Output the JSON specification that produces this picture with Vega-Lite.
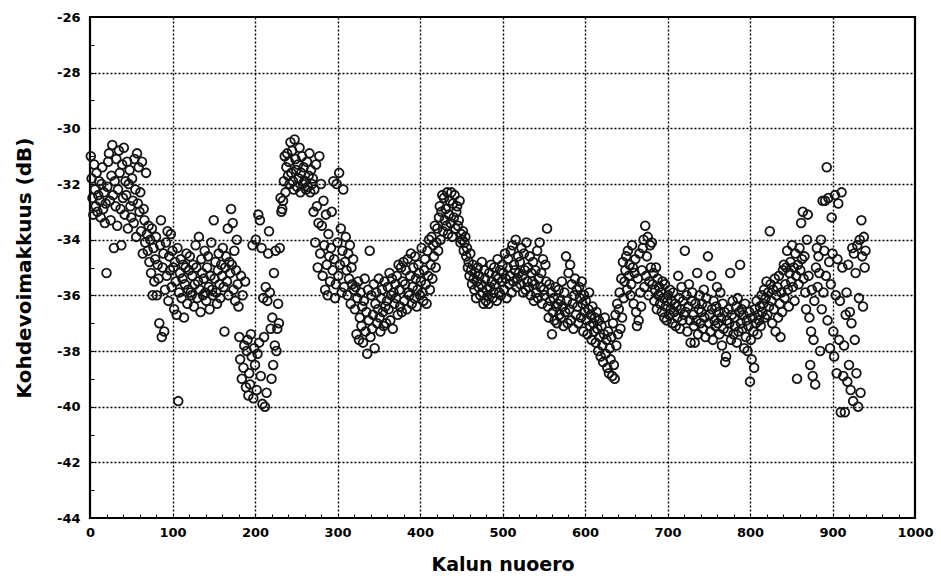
{
  "$schema": "https://vega.github.io/schema/vega-lite/v6.json",
  "width": 825,
  "height": 501,
  "autosize": {"type": "none"},
  "padding": {"left": 90, "top": 17, "right": 26, "bottom": 66},
  "background": "white",
  "config": {
    "view": {"stroke": "black", "strokeWidth": 2.2}
  },
  "data": {"values": [
{"x":1,"y":-31.0},{"x":2,"y":-31.8},{"x":3,"y":-32.5},{"x":4,"y":-33.1},{"x":5,"y":-31.3},{"x":6,"y":-32.2},{"x":7,"y":-32.8},{"x":8,"y":-31.6},{"x":9,"y":-33.0},{"x":10,"y":-32.4},
{"x":11,"y":-31.9},{"x":12,"y":-32.6},{"x":13,"y":-33.2},{"x":14,"y":-32.0},{"x":15,"y":-31.4},{"x":16,"y":-32.9},{"x":17,"y":-32.3},{"x":18,"y":-33.4},{"x":19,"y":-32.7},{"x":20,"y":-35.2},
{"x":21,"y":-32.1},{"x":22,"y":-31.2},{"x":23,"y":-30.9},{"x":24,"y":-32.6},{"x":25,"y":-33.3},{"x":26,"y":-31.7},{"x":27,"y":-30.6},{"x":28,"y":-32.4},{"x":29,"y":-34.3},{"x":30,"y":-31.9},
{"x":31,"y":-32.8},{"x":32,"y":-31.1},{"x":33,"y":-33.5},{"x":34,"y":-32.2},{"x":35,"y":-30.8},{"x":36,"y":-31.6},{"x":37,"y":-32.9},{"x":38,"y":-34.2},{"x":39,"y":-31.3},{"x":40,"y":-32.5},
{"x":41,"y":-30.7},{"x":42,"y":-33.1},{"x":43,"y":-31.9},{"x":44,"y":-32.4},{"x":45,"y":-31.2},{"x":46,"y":-33.6},{"x":47,"y":-32.0},{"x":48,"y":-31.5},{"x":49,"y":-32.8},{"x":50,"y":-33.2},
{"x":51,"y":-31.8},{"x":52,"y":-32.6},{"x":53,"y":-33.4},{"x":54,"y":-31.1},{"x":55,"y":-32.2},{"x":56,"y":-33.9},{"x":57,"y":-30.9},{"x":58,"y":-32.7},{"x":59,"y":-31.4},{"x":60,"y":-33.0},
{"x":61,"y":-32.3},{"x":62,"y":-33.7},{"x":63,"y":-31.2},{"x":64,"y":-34.5},{"x":65,"y":-32.9},{"x":66,"y":-33.3},{"x":67,"y":-34.1},{"x":68,"y":-31.6},{"x":69,"y":-33.8},{"x":70,"y":-34.4},
{"x":71,"y":-33.5},{"x":72,"y":-34.8},{"x":73,"y":-34.0},{"x":74,"y":-35.2},{"x":75,"y":-33.6},{"x":76,"y":-36.0},{"x":77,"y":-34.3},{"x":78,"y":-35.5},{"x":79,"y":-34.7},{"x":80,"y":-33.9},
{"x":81,"y":-36.0},{"x":82,"y":-34.9},{"x":83,"y":-35.4},{"x":84,"y":-37.0},{"x":85,"y":-34.2},{"x":86,"y":-33.3},{"x":87,"y":-37.5},{"x":88,"y":-35.0},{"x":89,"y":-34.5},{"x":90,"y":-37.3},
{"x":91,"y":-35.8},{"x":92,"y":-34.1},{"x":93,"y":-35.3},{"x":94,"y":-33.7},{"x":95,"y":-36.2},{"x":96,"y":-34.6},{"x":97,"y":-35.1},{"x":98,"y":-33.8},{"x":99,"y":-35.7},{"x":100,"y":-34.4},
{"x":101,"y":-35.0},{"x":102,"y":-36.5},{"x":103,"y":-34.8},{"x":104,"y":-35.5},{"x":105,"y":-36.7},{"x":106,"y":-34.3},{"x":107,"y":-39.8},{"x":108,"y":-35.9},{"x":109,"y":-35.2},{"x":110,"y":-34.7},
{"x":111,"y":-36.1},{"x":112,"y":-35.4},{"x":113,"y":-34.9},{"x":114,"y":-36.8},{"x":115,"y":-35.6},{"x":116,"y":-35.0},{"x":117,"y":-34.5},{"x":118,"y":-36.3},{"x":119,"y":-35.8},{"x":120,"y":-35.1},
{"x":121,"y":-34.6},{"x":122,"y":-35.9},{"x":123,"y":-36.0},{"x":124,"y":-35.3},{"x":125,"y":-34.9},{"x":126,"y":-36.4},{"x":127,"y":-35.6},{"x":128,"y":-34.2},{"x":129,"y":-35.0},{"x":130,"y":-36.1},
{"x":131,"y":-35.5},{"x":132,"y":-33.9},{"x":133,"y":-35.8},{"x":134,"y":-36.6},{"x":135,"y":-34.7},{"x":136,"y":-35.2},{"x":137,"y":-36.0},{"x":138,"y":-35.4},{"x":139,"y":-34.4},{"x":140,"y":-35.9},
{"x":141,"y":-36.2},{"x":142,"y":-35.0},{"x":143,"y":-34.6},{"x":144,"y":-35.7},{"x":145,"y":-36.5},{"x":146,"y":-35.3},{"x":147,"y":-34.1},{"x":148,"y":-35.8},{"x":149,"y":-36.0},{"x":150,"y":-33.3},
{"x":151,"y":-35.4},{"x":152,"y":-34.8},{"x":153,"y":-35.9},{"x":154,"y":-36.3},{"x":155,"y":-35.1},{"x":156,"y":-34.5},{"x":157,"y":-35.6},{"x":158,"y":-36.1},{"x":159,"y":-34.9},{"x":160,"y":-35.3},
{"x":161,"y":-34.3},{"x":162,"y":-35.7},{"x":163,"y":-37.3},{"x":164,"y":-35.0},{"x":165,"y":-34.6},{"x":166,"y":-35.5},{"x":167,"y":-33.6},{"x":168,"y":-36.0},{"x":169,"y":-34.8},{"x":170,"y":-35.2},
{"x":171,"y":-32.9},{"x":172,"y":-34.9},{"x":173,"y":-33.4},{"x":174,"y":-35.8},{"x":175,"y":-34.4},{"x":176,"y":-36.2},{"x":177,"y":-35.1},{"x":178,"y":-34.0},{"x":179,"y":-35.6},{"x":180,"y":-36.4},
{"x":181,"y":-37.5},{"x":182,"y":-38.3},{"x":183,"y":-35.3},{"x":184,"y":-39.0},{"x":185,"y":-36.0},{"x":186,"y":-38.6},{"x":187,"y":-37.8},{"x":188,"y":-35.5},{"x":189,"y":-39.3},{"x":190,"y":-38.0},
{"x":191,"y":-37.6},{"x":192,"y":-39.6},{"x":193,"y":-38.8},{"x":194,"y":-39.2},{"x":195,"y":-37.4},{"x":196,"y":-38.2},{"x":197,"y":-34.2},{"x":198,"y":-39.7},{"x":199,"y":-37.9},{"x":200,"y":-38.5},
{"x":201,"y":-34.0},{"x":202,"y":-39.4},{"x":203,"y":-38.1},{"x":204,"y":-33.1},{"x":205,"y":-37.7},{"x":206,"y":-33.3},{"x":207,"y":-38.9},{"x":208,"y":-34.3},{"x":209,"y":-39.9},{"x":210,"y":-36.1},
{"x":211,"y":-37.5},{"x":212,"y":-40.0},{"x":213,"y":-35.7},{"x":214,"y":-39.5},{"x":215,"y":-36.2},{"x":216,"y":-34.5},{"x":217,"y":-33.7},{"x":218,"y":-35.9},{"x":219,"y":-37.2},{"x":220,"y":-39.0},
{"x":221,"y":-36.8},{"x":222,"y":-38.5},{"x":223,"y":-35.2},{"x":224,"y":-37.8},{"x":225,"y":-34.4},{"x":226,"y":-38.0},{"x":227,"y":-37.2},{"x":228,"y":-36.3},{"x":229,"y":-37.0},{"x":230,"y":-34.3},
{"x":231,"y":-32.5},{"x":232,"y":-33.0},{"x":233,"y":-32.9},{"x":234,"y":-32.6},{"x":235,"y":-31.9},{"x":236,"y":-31.0},{"x":237,"y":-32.3},{"x":238,"y":-31.4},{"x":239,"y":-30.9},{"x":240,"y":-31.7},
{"x":241,"y":-31.2},{"x":242,"y":-32.0},{"x":243,"y":-30.5},{"x":244,"y":-31.6},{"x":245,"y":-30.8},{"x":246,"y":-31.9},{"x":247,"y":-32.2},{"x":248,"y":-30.4},{"x":249,"y":-31.1},{"x":250,"y":-31.5},
{"x":251,"y":-32.1},{"x":252,"y":-31.3},{"x":253,"y":-31.8},{"x":254,"y":-30.7},{"x":255,"y":-32.3},{"x":256,"y":-31.6},{"x":257,"y":-31.0},{"x":258,"y":-32.0},{"x":259,"y":-31.4},{"x":260,"y":-31.9},
{"x":261,"y":-31.9},{"x":262,"y":-32.2},{"x":263,"y":-31.2},{"x":264,"y":-32.1},{"x":265,"y":-31.7},{"x":266,"y":-30.9},{"x":267,"y":-32.3},{"x":268,"y":-31.5},{"x":269,"y":-32.0},{"x":270,"y":-31.8},
{"x":271,"y":-33.0},{"x":272,"y":-32.2},{"x":273,"y":-34.1},{"x":274,"y":-31.3},{"x":275,"y":-32.8},{"x":276,"y":-35.0},{"x":277,"y":-33.4},{"x":278,"y":-31.0},{"x":279,"y":-34.5},{"x":280,"y":-32.0},
{"x":281,"y":-33.5},{"x":282,"y":-35.3},{"x":283,"y":-32.6},{"x":284,"y":-34.2},{"x":285,"y":-35.8},{"x":286,"y":-33.1},{"x":287,"y":-34.9},{"x":288,"y":-36.0},{"x":289,"y":-33.8},{"x":290,"y":-34.6},
{"x":291,"y":-35.5},{"x":292,"y":-34.3},{"x":293,"y":-33.0},{"x":294,"y":-35.1},{"x":295,"y":-31.9},{"x":296,"y":-34.7},{"x":297,"y":-36.1},{"x":298,"y":-35.6},{"x":299,"y":-32.0},{"x":300,"y":-34.1},
{"x":301,"y":-35.3},{"x":302,"y":-31.6},{"x":303,"y":-34.9},{"x":304,"y":-33.6},{"x":305,"y":-35.9},{"x":306,"y":-34.4},{"x":307,"y":-32.2},{"x":308,"y":-35.7},{"x":309,"y":-34.8},{"x":310,"y":-33.9},
{"x":311,"y":-35.1},{"x":312,"y":-36.0},{"x":313,"y":-34.5},{"x":314,"y":-35.4},{"x":315,"y":-34.2},{"x":316,"y":-36.3},{"x":317,"y":-35.0},{"x":318,"y":-35.6},{"x":319,"y":-34.7},{"x":320,"y":-35.8},
{"x":321,"y":-36.5},{"x":322,"y":-35.7},{"x":323,"y":-37.4},{"x":324,"y":-36.1},{"x":325,"y":-35.5},{"x":326,"y":-37.6},{"x":327,"y":-36.8},{"x":328,"y":-35.9},{"x":329,"y":-37.1},{"x":330,"y":-36.4},
{"x":331,"y":-37.7},{"x":332,"y":-36.2},{"x":333,"y":-35.4},{"x":334,"y":-37.3},{"x":335,"y":-36.6},{"x":336,"y":-38.1},{"x":337,"y":-35.8},{"x":338,"y":-36.9},{"x":339,"y":-34.4},{"x":340,"y":-37.5},
{"x":341,"y":-36.0},{"x":342,"y":-37.2},{"x":343,"y":-36.7},{"x":344,"y":-35.6},{"x":345,"y":-37.9},{"x":346,"y":-36.3},{"x":347,"y":-35.9},{"x":348,"y":-37.0},{"x":349,"y":-36.5},{"x":350,"y":-35.4},
{"x":351,"y":-36.8},{"x":352,"y":-37.3},{"x":353,"y":-36.1},{"x":354,"y":-35.8},{"x":355,"y":-36.6},{"x":356,"y":-37.1},{"x":357,"y":-35.5},{"x":358,"y":-36.4},{"x":359,"y":-37.0},{"x":360,"y":-36.2},
{"x":361,"y":-35.7},{"x":362,"y":-36.5},{"x":363,"y":-35.2},{"x":364,"y":-36.9},{"x":365,"y":-36.0},{"x":366,"y":-35.4},{"x":367,"y":-37.2},{"x":368,"y":-35.9},{"x":369,"y":-36.3},{"x":370,"y":-35.6},
{"x":371,"y":-36.1},{"x":372,"y":-35.3},{"x":373,"y":-36.7},{"x":374,"y":-34.9},{"x":375,"y":-35.8},{"x":376,"y":-36.4},{"x":377,"y":-35.0},{"x":378,"y":-36.6},{"x":379,"y":-35.5},{"x":380,"y":-34.8},
{"x":381,"y":-36.2},{"x":382,"y":-35.6},{"x":383,"y":-35.1},{"x":384,"y":-36.5},{"x":385,"y":-34.7},{"x":386,"y":-35.9},{"x":387,"y":-36.0},{"x":388,"y":-35.3},{"x":389,"y":-34.5},{"x":390,"y":-36.3},
{"x":391,"y":-35.7},{"x":392,"y":-35.0},{"x":393,"y":-36.1},{"x":394,"y":-34.6},{"x":395,"y":-35.4},{"x":396,"y":-36.4},{"x":397,"y":-35.8},{"x":398,"y":-34.9},{"x":399,"y":-35.2},{"x":400,"y":-36.0},
{"x":401,"y":-35.5},{"x":402,"y":-34.3},{"x":403,"y":-35.9},{"x":404,"y":-36.2},{"x":405,"y":-35.1},{"x":406,"y":-34.7},{"x":407,"y":-35.6},{"x":408,"y":-36.3},{"x":409,"y":-34.4},{"x":410,"y":-35.3},
{"x":411,"y":-34.0},{"x":412,"y":-35.8},{"x":413,"y":-34.9},{"x":414,"y":-33.9},{"x":415,"y":-35.4},{"x":416,"y":-34.2},{"x":417,"y":-34.6},{"x":418,"y":-33.5},{"x":419,"y":-35.0},{"x":420,"y":-34.1},
{"x":421,"y":-33.6},{"x":422,"y":-34.4},{"x":423,"y":-33.2},{"x":424,"y":-32.8},{"x":425,"y":-34.0},{"x":426,"y":-33.0},{"x":427,"y":-32.4},{"x":428,"y":-33.7},{"x":429,"y":-32.5},{"x":430,"y":-33.3},
{"x":431,"y":-32.9},{"x":432,"y":-33.5},{"x":433,"y":-32.3},{"x":434,"y":-33.8},{"x":435,"y":-33.1},{"x":436,"y":-32.6},{"x":437,"y":-33.4},{"x":438,"y":-32.3},{"x":439,"y":-33.9},{"x":440,"y":-32.7},
{"x":441,"y":-33.2},{"x":442,"y":-32.4},{"x":443,"y":-33.6},{"x":444,"y":-33.0},{"x":445,"y":-32.8},{"x":446,"y":-33.5},{"x":447,"y":-33.3},{"x":448,"y":-32.6},{"x":449,"y":-34.1},{"x":450,"y":-33.8},
{"x":451,"y":-34.0},{"x":452,"y":-33.7},{"x":453,"y":-34.4},{"x":454,"y":-34.1},{"x":455,"y":-33.9},{"x":456,"y":-34.6},{"x":457,"y":-34.3},{"x":458,"y":-35.0},{"x":459,"y":-34.8},{"x":460,"y":-35.3},
{"x":461,"y":-34.5},{"x":462,"y":-35.1},{"x":463,"y":-35.6},{"x":464,"y":-34.9},{"x":465,"y":-35.4},{"x":466,"y":-35.8},{"x":467,"y":-35.2},{"x":468,"y":-36.1},{"x":469,"y":-35.5},{"x":470,"y":-35.0},
{"x":471,"y":-35.7},{"x":472,"y":-35.3},{"x":473,"y":-36.0},{"x":474,"y":-35.6},{"x":475,"y":-34.8},{"x":476,"y":-35.9},{"x":477,"y":-36.3},{"x":478,"y":-35.1},{"x":479,"y":-35.4},{"x":480,"y":-36.2},
{"x":481,"y":-35.8},{"x":482,"y":-36.0},{"x":483,"y":-36.3},{"x":484,"y":-35.2},{"x":485,"y":-35.7},{"x":486,"y":-34.9},{"x":487,"y":-35.5},{"x":488,"y":-36.1},{"x":489,"y":-35.9},{"x":490,"y":-35.0},
{"x":491,"y":-35.6},{"x":492,"y":-35.3},{"x":493,"y":-36.2},{"x":494,"y":-34.7},{"x":495,"y":-35.4},{"x":496,"y":-35.9},{"x":497,"y":-35.1},{"x":498,"y":-36.0},{"x":499,"y":-35.5},{"x":500,"y":-34.9},
{"x":501,"y":-35.2},{"x":502,"y":-35.8},{"x":503,"y":-34.5},{"x":504,"y":-35.4},{"x":505,"y":-36.1},{"x":506,"y":-35.0},{"x":507,"y":-34.7},{"x":508,"y":-35.6},{"x":509,"y":-35.3},{"x":510,"y":-34.4},
{"x":511,"y":-35.9},{"x":512,"y":-34.2},{"x":513,"y":-35.5},{"x":514,"y":-34.9},{"x":515,"y":-35.1},{"x":516,"y":-34.0},{"x":517,"y":-35.7},{"x":518,"y":-35.4},{"x":519,"y":-34.6},{"x":520,"y":-35.2},
{"x":521,"y":-34.8},{"x":522,"y":-35.6},{"x":523,"y":-34.3},{"x":524,"y":-35.3},{"x":525,"y":-35.9},{"x":526,"y":-34.5},{"x":527,"y":-35.1},{"x":528,"y":-35.8},{"x":529,"y":-34.1},{"x":530,"y":-35.5},
{"x":531,"y":-35.0},{"x":532,"y":-35.7},{"x":533,"y":-34.6},{"x":534,"y":-36.0},{"x":535,"y":-35.2},{"x":536,"y":-35.5},{"x":537,"y":-34.8},{"x":538,"y":-36.2},{"x":539,"y":-35.6},{"x":540,"y":-35.1},
{"x":541,"y":-35.9},{"x":542,"y":-34.4},{"x":543,"y":-36.1},{"x":544,"y":-35.4},{"x":545,"y":-34.1},{"x":546,"y":-35.7},{"x":547,"y":-35.2},{"x":548,"y":-36.3},{"x":549,"y":-34.7},{"x":550,"y":-35.8},
{"x":551,"y":-36.0},{"x":552,"y":-34.9},{"x":553,"y":-35.5},{"x":554,"y":-33.6},{"x":555,"y":-36.4},{"x":556,"y":-36.8},{"x":557,"y":-35.6},{"x":558,"y":-36.2},{"x":559,"y":-35.9},{"x":560,"y":-37.4},
{"x":561,"y":-36.6},{"x":562,"y":-36.1},{"x":563,"y":-36.9},{"x":564,"y":-35.7},{"x":565,"y":-36.4},{"x":566,"y":-37.0},{"x":567,"y":-36.3},{"x":568,"y":-35.8},{"x":569,"y":-36.7},{"x":570,"y":-36.2},
{"x":571,"y":-36.8},{"x":572,"y":-35.5},{"x":573,"y":-36.4},{"x":574,"y":-37.1},{"x":575,"y":-35.9},{"x":576,"y":-36.6},{"x":577,"y":-34.6},{"x":578,"y":-36.2},{"x":579,"y":-37.0},{"x":580,"y":-35.2},
{"x":581,"y":-36.5},{"x":582,"y":-34.9},{"x":583,"y":-36.9},{"x":584,"y":-35.6},{"x":585,"y":-36.3},{"x":586,"y":-37.2},{"x":587,"y":-36.0},{"x":588,"y":-35.4},{"x":589,"y":-36.7},{"x":590,"y":-35.8},
{"x":591,"y":-36.4},{"x":592,"y":-37.0},{"x":593,"y":-35.7},{"x":594,"y":-36.1},{"x":595,"y":-36.8},{"x":596,"y":-35.5},{"x":597,"y":-36.3},{"x":598,"y":-37.3},{"x":599,"y":-36.0},{"x":600,"y":-36.6},
{"x":601,"y":-36.2},{"x":602,"y":-36.9},{"x":603,"y":-37.4},{"x":604,"y":-36.5},{"x":605,"y":-35.9},{"x":606,"y":-37.1},{"x":607,"y":-36.7},{"x":608,"y":-37.6},{"x":609,"y":-36.4},{"x":610,"y":-37.0},
{"x":611,"y":-37.3},{"x":612,"y":-36.8},{"x":613,"y":-37.7},{"x":614,"y":-36.6},{"x":615,"y":-37.2},{"x":616,"y":-38.0},{"x":617,"y":-36.9},{"x":618,"y":-37.5},{"x":619,"y":-38.2},{"x":620,"y":-37.1},
{"x":621,"y":-37.8},{"x":622,"y":-38.4},{"x":623,"y":-37.4},{"x":624,"y":-36.8},{"x":625,"y":-38.1},{"x":626,"y":-37.6},{"x":627,"y":-38.6},{"x":628,"y":-37.3},{"x":629,"y":-38.8},{"x":630,"y":-37.9},
{"x":631,"y":-38.3},{"x":632,"y":-37.5},{"x":633,"y":-38.9},{"x":634,"y":-37.0},{"x":635,"y":-38.5},{"x":636,"y":-39.0},{"x":637,"y":-36.7},{"x":638,"y":-37.8},{"x":639,"y":-36.3},{"x":640,"y":-37.4},
{"x":641,"y":-36.5},{"x":642,"y":-35.9},{"x":643,"y":-37.2},{"x":644,"y":-35.4},{"x":645,"y":-36.8},{"x":646,"y":-34.8},{"x":647,"y":-36.1},{"x":648,"y":-35.5},{"x":649,"y":-35.1},{"x":650,"y":-34.6},
{"x":651,"y":-35.8},{"x":652,"y":-34.4},{"x":653,"y":-35.3},{"x":654,"y":-34.9},{"x":655,"y":-36.0},{"x":656,"y":-35.6},{"x":657,"y":-34.2},{"x":658,"y":-35.0},{"x":659,"y":-36.3},{"x":660,"y":-35.2},
{"x":661,"y":-34.7},{"x":662,"y":-36.6},{"x":663,"y":-37.1},{"x":664,"y":-35.4},{"x":665,"y":-36.9},{"x":666,"y":-34.5},{"x":667,"y":-35.9},{"x":668,"y":-36.4},{"x":669,"y":-35.1},{"x":670,"y":-34.3},
{"x":671,"y":-34.0},{"x":672,"y":-35.7},{"x":673,"y":-33.5},{"x":674,"y":-35.3},{"x":675,"y":-34.6},{"x":676,"y":-33.9},{"x":677,"y":-36.0},{"x":678,"y":-35.5},{"x":679,"y":-34.2},{"x":680,"y":-35.0},
{"x":681,"y":-34.1},{"x":682,"y":-35.6},{"x":683,"y":-35.2},{"x":684,"y":-36.2},{"x":685,"y":-35.8},{"x":686,"y":-35.0},{"x":687,"y":-36.5},{"x":688,"y":-35.4},{"x":689,"y":-36.0},{"x":690,"y":-35.7},
{"x":691,"y":-36.3},{"x":692,"y":-35.9},{"x":693,"y":-36.6},{"x":694,"y":-35.5},{"x":695,"y":-36.1},{"x":696,"y":-36.8},{"x":697,"y":-35.6},{"x":698,"y":-36.4},{"x":699,"y":-36.9},{"x":700,"y":-36.2},
{"x":701,"y":-36.0},{"x":702,"y":-36.7},{"x":703,"y":-35.8},{"x":704,"y":-36.5},{"x":705,"y":-36.2},{"x":706,"y":-37.0},{"x":707,"y":-35.9},{"x":708,"y":-36.6},{"x":709,"y":-36.3},{"x":710,"y":-37.1},
{"x":711,"y":-36.4},{"x":712,"y":-36.8},{"x":713,"y":-35.3},{"x":714,"y":-36.1},{"x":715,"y":-37.2},{"x":716,"y":-36.5},{"x":717,"y":-35.7},{"x":718,"y":-36.9},{"x":719,"y":-36.2},{"x":720,"y":-36.7},
{"x":721,"y":-34.4},{"x":722,"y":-36.6},{"x":723,"y":-36.0},{"x":724,"y":-37.3},{"x":725,"y":-36.4},{"x":726,"y":-35.6},{"x":727,"y":-36.9},{"x":728,"y":-37.7},{"x":729,"y":-36.2},{"x":730,"y":-35.9},
{"x":731,"y":-36.7},{"x":732,"y":-37.1},{"x":733,"y":-37.7},{"x":734,"y":-36.3},{"x":735,"y":-36.9},{"x":736,"y":-35.2},{"x":737,"y":-37.4},{"x":738,"y":-36.5},{"x":739,"y":-36.0},{"x":740,"y":-37.0},
{"x":741,"y":-36.6},{"x":742,"y":-36.3},{"x":743,"y":-37.2},{"x":744,"y":-35.8},{"x":745,"y":-36.8},{"x":746,"y":-37.5},{"x":747,"y":-36.1},{"x":748,"y":-36.4},{"x":749,"y":-34.6},{"x":750,"y":-37.0},
{"x":751,"y":-36.7},{"x":752,"y":-37.3},{"x":753,"y":-35.3},{"x":754,"y":-36.5},{"x":755,"y":-37.6},{"x":756,"y":-36.2},{"x":757,"y":-36.9},{"x":758,"y":-37.1},{"x":759,"y":-36.4},{"x":760,"y":-35.7},
{"x":761,"y":-37.0},{"x":762,"y":-36.6},{"x":763,"y":-37.4},{"x":764,"y":-35.9},{"x":765,"y":-36.8},{"x":766,"y":-37.8},{"x":767,"y":-36.3},{"x":768,"y":-37.2},{"x":769,"y":-36.6},{"x":770,"y":-38.4},
{"x":771,"y":-38.2},{"x":772,"y":-36.9},{"x":773,"y":-37.3},{"x":774,"y":-36.5},{"x":775,"y":-37.0},{"x":776,"y":-35.2},{"x":777,"y":-37.6},{"x":778,"y":-36.7},{"x":779,"y":-36.2},{"x":780,"y":-37.4},
{"x":781,"y":-36.8},{"x":782,"y":-37.1},{"x":783,"y":-36.4},{"x":784,"y":-37.7},{"x":785,"y":-36.1},{"x":786,"y":-37.3},{"x":787,"y":-36.6},{"x":788,"y":-34.9},{"x":789,"y":-37.0},{"x":790,"y":-36.5},
{"x":791,"y":-37.2},{"x":792,"y":-36.7},{"x":793,"y":-37.9},{"x":794,"y":-36.3},{"x":795,"y":-37.5},{"x":796,"y":-36.9},{"x":797,"y":-38.0},{"x":798,"y":-37.1},{"x":799,"y":-36.6},{"x":800,"y":-39.1},
{"x":801,"y":-37.6},{"x":802,"y":-38.3},{"x":803,"y":-36.8},{"x":804,"y":-37.3},{"x":805,"y":-38.6},{"x":806,"y":-36.5},{"x":807,"y":-37.0},{"x":808,"y":-36.2},{"x":809,"y":-37.4},{"x":810,"y":-36.7},
{"x":811,"y":-36.9},{"x":812,"y":-36.4},{"x":813,"y":-37.1},{"x":814,"y":-36.0},{"x":815,"y":-36.6},{"x":816,"y":-36.3},{"x":817,"y":-35.8},{"x":818,"y":-36.8},{"x":819,"y":-36.1},{"x":820,"y":-35.5},
{"x":821,"y":-36.7},{"x":822,"y":-35.9},{"x":823,"y":-36.4},{"x":824,"y":-33.7},{"x":825,"y":-35.6},{"x":826,"y":-36.2},{"x":827,"y":-37.0},{"x":828,"y":-35.8},{"x":829,"y":-36.5},{"x":830,"y":-35.4},
{"x":831,"y":-37.3},{"x":832,"y":-36.0},{"x":833,"y":-35.7},{"x":834,"y":-36.8},{"x":835,"y":-35.3},{"x":836,"y":-36.3},{"x":837,"y":-37.5},{"x":838,"y":-35.9},{"x":839,"y":-36.6},{"x":840,"y":-35.1},
{"x":841,"y":-34.9},{"x":842,"y":-36.1},{"x":843,"y":-35.6},{"x":844,"y":-35.0},{"x":845,"y":-34.4},{"x":846,"y":-35.8},{"x":847,"y":-36.4},{"x":848,"y":-35.2},{"x":849,"y":-34.8},{"x":850,"y":-35.5},
{"x":851,"y":-34.2},{"x":852,"y":-35.7},{"x":853,"y":-35.0},{"x":854,"y":-36.2},{"x":855,"y":-34.5},{"x":856,"y":-35.3},{"x":857,"y":-39.0},{"x":858,"y":-34.9},{"x":859,"y":-35.6},{"x":860,"y":-34.3},
{"x":861,"y":-35.1},{"x":862,"y":-33.4},{"x":863,"y":-34.7},{"x":864,"y":-33.0},{"x":865,"y":-35.4},{"x":866,"y":-34.6},{"x":867,"y":-35.9},{"x":868,"y":-36.5},{"x":869,"y":-34.0},{"x":870,"y":-33.1},
{"x":871,"y":-35.3},{"x":872,"y":-36.8},{"x":873,"y":-38.5},{"x":874,"y":-37.3},{"x":875,"y":-35.8},{"x":876,"y":-38.9},{"x":877,"y":-37.6},{"x":878,"y":-36.2},{"x":879,"y":-39.2},{"x":880,"y":-35.0},
{"x":881,"y":-34.3},{"x":882,"y":-35.7},{"x":883,"y":-34.6},{"x":884,"y":-35.2},{"x":885,"y":-38.0},{"x":886,"y":-34.0},{"x":887,"y":-36.5},{"x":888,"y":-32.6},{"x":889,"y":-35.9},{"x":890,"y":-34.4},
{"x":891,"y":-32.6},{"x":892,"y":-35.3},{"x":893,"y":-31.4},{"x":894,"y":-36.9},{"x":895,"y":-32.5},{"x":896,"y":-34.8},{"x":897,"y":-37.9},{"x":898,"y":-35.6},{"x":899,"y":-33.2},{"x":900,"y":-34.5},
{"x":901,"y":-37.3},{"x":902,"y":-38.2},{"x":903,"y":-32.4},{"x":904,"y":-36.0},{"x":905,"y":-38.8},{"x":906,"y":-34.7},{"x":907,"y":-32.7},{"x":908,"y":-37.6},{"x":909,"y":-36.2},{"x":910,"y":-40.2},
{"x":911,"y":-32.3},{"x":912,"y":-35.0},{"x":913,"y":-38.9},{"x":914,"y":-37.8},{"x":915,"y":-40.2},{"x":916,"y":-36.7},{"x":917,"y":-35.9},{"x":918,"y":-39.1},{"x":919,"y":-34.9},{"x":920,"y":-38.5},
{"x":921,"y":-36.6},{"x":922,"y":-39.4},{"x":923,"y":-37.0},{"x":924,"y":-34.3},{"x":925,"y":-39.8},{"x":926,"y":-34.5},{"x":927,"y":-37.6},{"x":928,"y":-35.2},{"x":929,"y":-38.8},{"x":930,"y":-34.2},
{"x":931,"y":-40.0},{"x":932,"y":-36.1},{"x":933,"y":-34.0},{"x":934,"y":-39.5},{"x":935,"y":-33.3},{"x":936,"y":-34.6},{"x":937,"y":-36.4},{"x":938,"y":-33.9},{"x":939,"y":-35.0},{"x":940,"y":-34.4}
  ]},
  "mark": {"type": "point", "shape": "circle", "filled": false, "size": 76, "stroke": "#141414", "strokeWidth": 1.8, "opacity": 1},
  "encoding": {
    "x": {
      "field": "x", "type": "quantitative",
      "scale": {"domain": [0, 1000], "nice": false, "zero": false},
      "axis": {
        "values": [0,20,40,60,80,100,120,140,160,180,200,220,240,260,280,300,320,340,360,380,400,420,440,460,480,500,520,540,560,580,600,620,640,660,680,700,720,740,760,780,800,820,840,860,880,900,920,940,960,980,1000],
        "labelExpr": "datum.value % 100 === 0 ? '' + datum.value : ''",
        "domain": false,
        "grid": true,
        "gridDash": [2, 2],
        "gridWidth": 1.4,
        "gridColor": {"condition": {"test": "datum.value % 100 === 0 && datum.value > 0 && datum.value < 1000", "value": "black"}, "value": "transparent"},
        "tickSize": -4,
        "tickColor": "black",
        "labelPadding": 12,
        "labelFont": "DejaVu Sans",
        "labelFontWeight": "bold",
        "labelFontSize": 13,
        "labelColor": "black",
        "labelFlush": false,
        "labelOverlap": false,
        "title": "Kalun nuoero",
        "titleFont": "DejaVu Sans",
        "titleFontWeight": "bold",
        "titleFontSize": 19,
        "titleColor": "black",
        "titlePadding": 16
      }
    },
    "y": {
      "field": "y", "type": "quantitative",
      "scale": {"domain": [-44, -26], "nice": false, "zero": false},
      "axis": {
        "values": [-44,-43,-42,-41,-40,-39,-38,-37,-36,-35,-34,-33,-32,-31,-30,-29,-28,-27,-26],
        "labelExpr": "datum.value % 2 === 0 ? '' + datum.value : ''",
        "domain": false,
        "grid": true,
        "gridDash": [2, 2],
        "gridWidth": 1.4,
        "gridColor": {"condition": {"test": "datum.value % 2 === 0 && datum.value > -44 && datum.value < -26", "value": "black"}, "value": "transparent"},
        "tickSize": -4,
        "tickColor": "black",
        "labelPadding": 14,
        "labelFont": "DejaVu Sans",
        "labelFontWeight": "bold",
        "labelFontSize": 13,
        "labelColor": "black",
        "labelFlush": false,
        "labelOverlap": false,
        "title": "Kohdevoimakkuus (dB)",
        "titleFont": "DejaVu Sans",
        "titleFontWeight": "bold",
        "titleFontSize": 20,
        "titleColor": "black",
        "titlePadding": 22
      }
    }
  }
}
